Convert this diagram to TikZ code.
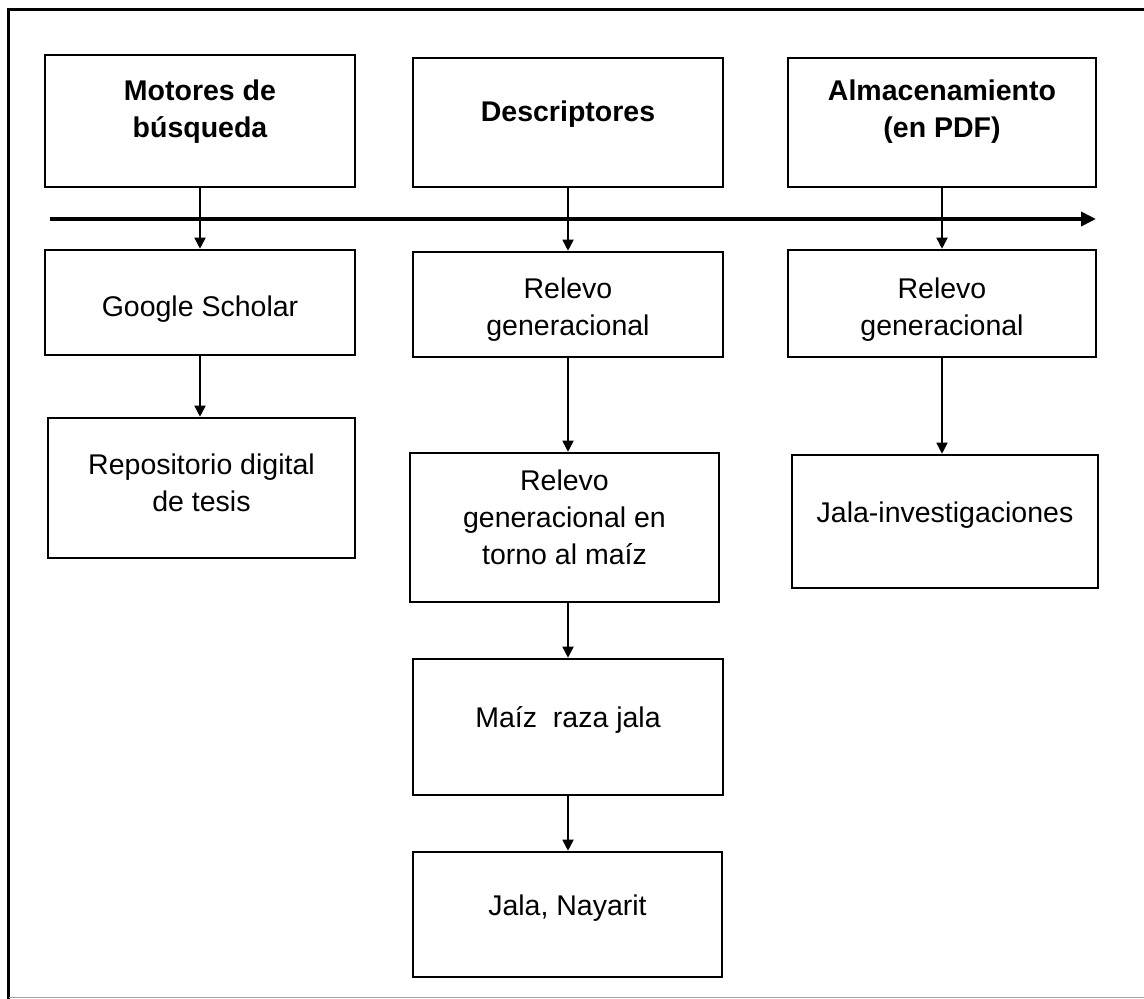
\documentclass[tikz,border=0pt]{standalone}
\usepackage{fontspec}
\setmainfont{Liberation Sans}
\usetikzlibrary{arrows.meta}

\begin{document}
\begin{tikzpicture}[x=1pt, y=-1pt,
  box/.style={draw=black, line width=2.6pt, inner sep=0pt},
  txt/.style={align=center, inner sep=0pt, font=\fontsize{28.5}{37}\selectfont},
  head/.style={txt, font=\fontsize{28.5}{37}\selectfont\bfseries},
  link/.style={line width=1.8pt, -{Triangle[length=11pt, width=11pt]}},
  axis/.style={line width=3.6pt, -{Triangle[length=15pt, width=14pt]}}]

\useasboundingbox (0,0) rectangle (1144,999);

% outer frame
\draw[line width=3pt] (1144,9.5) -- (8.5,9.5) -- (8.5,999);
\draw[line width=1.2pt, draw={rgb,255:red,160;green,160;blue,160}] (8.5,997.5) -- (1144,997.5);

% first column
\node[box, minimum width=310pt, minimum height=132pt] (a1) at (200,121) {};
\node[head] (a1t) at (200,112) {Motores de\\búsqueda};
\node[box, minimum width=310pt, minimum height=105pt] (a2) at (200,302.5) {};
\node[txt] (a2t) at (200,309) {Google Scholar};
\node[box, minimum width=307pt, minimum height=140pt] (a3) at (201.5,488) {};
\node[txt] (a3t) at (201.5,483) {Repositorio digital\\de tesis};

% second column
\node[box, minimum width=310pt, minimum height=129pt] (b1) at (568,122.5) {};
\node[head] (b1t) at (568,114) {Descriptores};
\node[box, minimum width=310pt, minimum height=105pt] (b2) at (568,304.5) {};
\node[txt] (b2t) at (568,310) {Relevo\\generacional};
\node[box, minimum width=309pt, minimum height=149pt] (b3) at (564.5,527.5) {};
\node[txt] (b3t) at (564.5,517) {Relevo\\generacional en\\torno al maíz};
\node[box, minimum width=310pt, minimum height=136pt] (b4) at (568,727) {};
\node[txt] (b4t) at (568,720) {Maíz\ \ raza jala};
\node[box, minimum width=309pt, minimum height=125pt] (b5) at (567.5,914.5) {};
\node[txt] (b5t) at (567.5,908) {Jala, Nayarit};

% third column
\node[box, minimum width=308pt, minimum height=129pt] (c1) at (942,122.5) {};
\node[head] (c1t) at (942,112) {Almacenamiento\\(en PDF)};
\node[box, minimum width=308pt, minimum height=107pt] (c2) at (942,303.5) {};
\node[txt] (c2t) at (942,310) {Relevo\\generacional};
\node[box, minimum width=306pt, minimum height=133pt] (c3) at (945,521.5) {};
\node[txt] (c3t) at (945,515) {Jala-investigaciones};

% horizontal timeline arrow
\coordinate (ax0) at (50,219);
\coordinate (ax1) at (1096,219);
\draw[axis] (ax0) -- (ax1);

% vertical connectors
\draw[link] (a1.south) -- (a2.north);
\draw[link] (a2.south) -- (a2.south |- a3.north);
\draw[link] (b1.south) -- (b2.north);
\draw[link] (b2.south) -- (b2.south |- b3.north);
\draw[link] (b2.south |- b3.south) -- (b4.north);
\draw[link] (b4.south) -- (b4.south |- b5.north);
\draw[link] (c1.south) -- (c2.north);
\draw[link] (c2.south) -- (c2.south |- c3.north);
\end{tikzpicture}
\end{document}
